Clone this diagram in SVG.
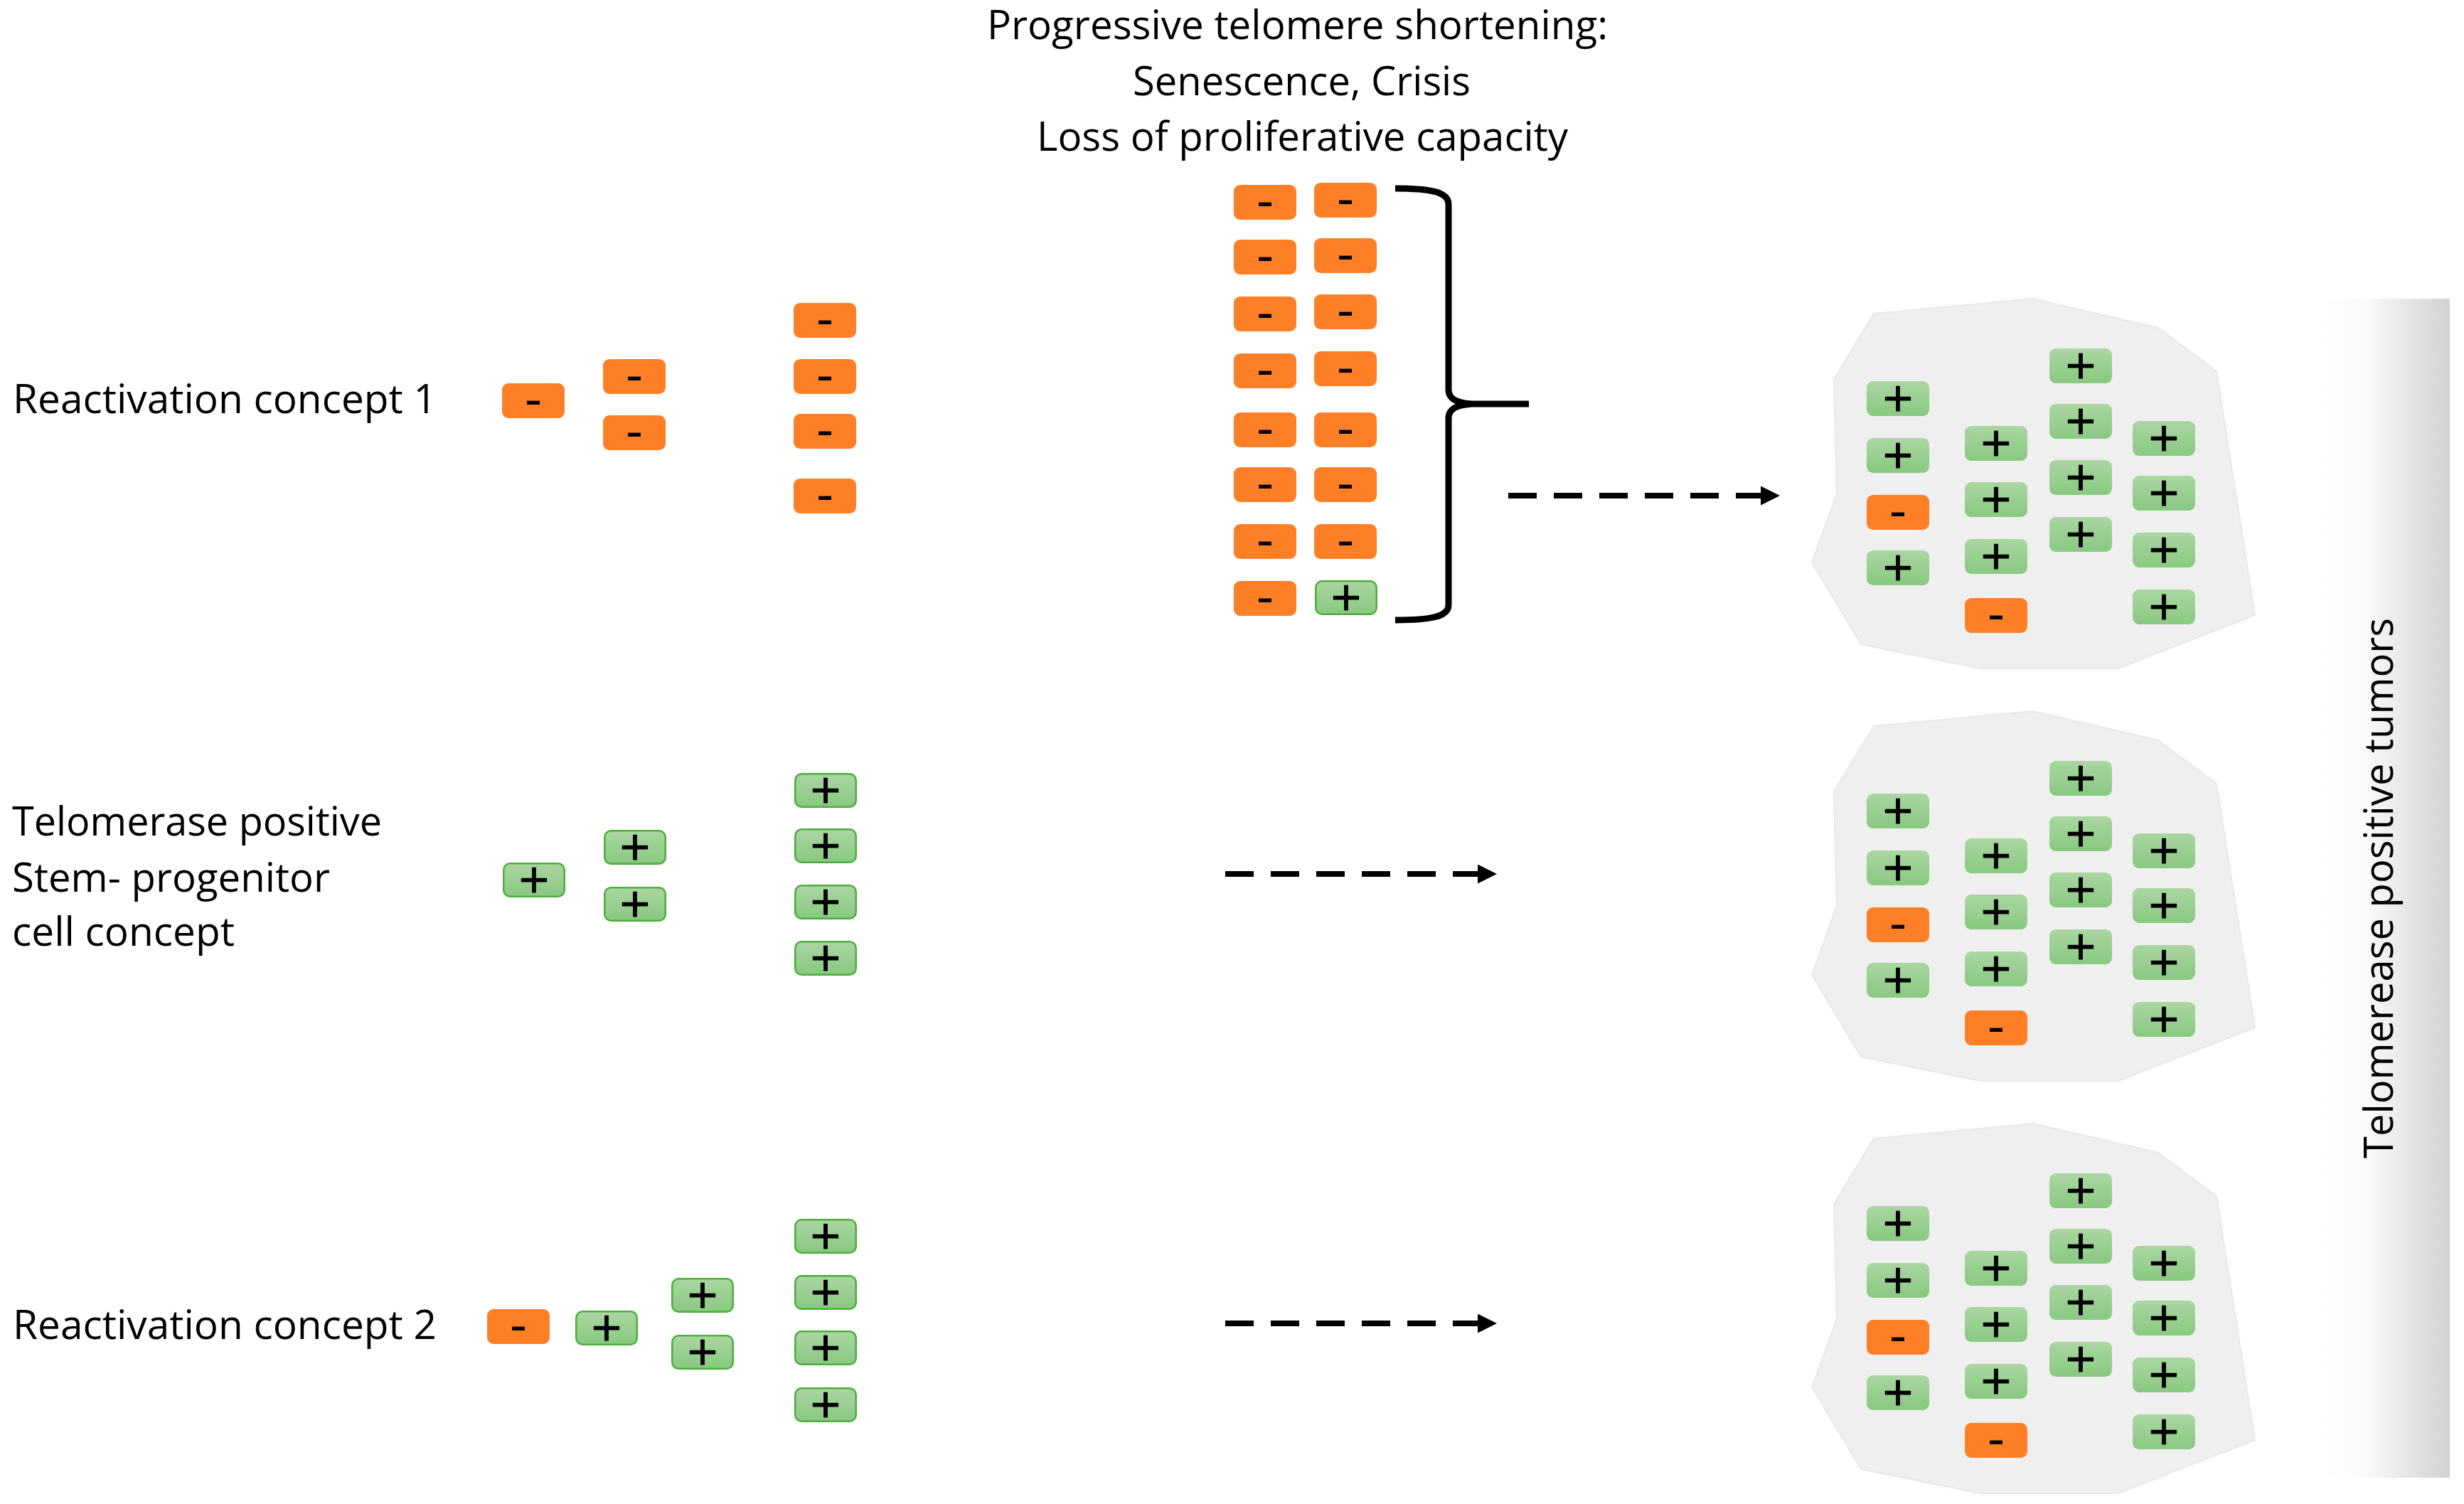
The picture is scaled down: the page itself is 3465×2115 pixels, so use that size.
<svg xmlns="http://www.w3.org/2000/svg" xmlns:xlink="http://www.w3.org/1999/xlink" width="3465" height="2115" viewBox="0 0 3465 2115">
<style>
.lbl{font-family:"Open Sans","Liberation Sans",sans-serif;font-size:56px;fill:#000}
.m{font-family:"DejaVu Sans",sans-serif;font-size:68px;text-anchor:middle;fill:#000}
.p{font-family:"DejaVu Sans",sans-serif;font-size:56px;text-anchor:middle;fill:#000;stroke:#000;stroke-width:1.2}
.tumor{fill:#efefef;stroke:#e8e8e8;stroke-width:2}
.conn{fill:none;stroke:#000;stroke-width:8;stroke-dasharray:40 24}
</style>
<defs>
<linearGradient id="gg" x1="0" y1="0" x2="0" y2="1">
<stop offset="0" stop-color="#aad6a2"/>
<stop offset="1" stop-color="#88c980"/>
</linearGradient>
<linearGradient id="bar" x1="0" y1="0" x2="1" y2="0">
<stop offset="0" stop-color="#ffffff"/>
<stop offset="0.35" stop-color="#fafafa"/>
<stop offset="1" stop-color="#d2d2d2"/>
</linearGradient>
<marker id="ah" markerUnits="userSpaceOnUse" markerWidth="28" markerHeight="28" refX="5" refY="13.5" orient="auto" viewBox="0 0 28 28">
<path d="M0,0 L27,13.5 L0,27 z" fill="#000"/>
</marker>
<g id="neg"><rect width="88" height="49" rx="9" fill="#FF7F27"/><text x="44" y="46" class="m">-</text></g>
<g id="pos"><rect x="1.25" y="1.25" width="85.5" height="46.5" rx="9" fill="url(#gg)" stroke="#4cae3c" stroke-width="2.5"/><text x="44" y="42" class="p">+</text></g>
<g id="posT"><rect width="88" height="49" rx="9" fill="url(#gg)"/><text x="44" y="42" class="p">+</text></g>
<g id="tumorCells">
<use href="#posT" x="2625" y="536"/>
<use href="#posT" x="2625" y="616"/>
<use href="#neg" x="2625" y="696"/>
<use href="#posT" x="2625" y="774"/>
<use href="#posT" x="2763" y="599"/>
<use href="#posT" x="2763" y="678"/>
<use href="#posT" x="2763" y="758"/>
<use href="#neg" x="2763" y="841"/>
<use href="#posT" x="2882" y="490"/>
<use href="#posT" x="2882" y="568"/>
<use href="#posT" x="2882" y="647"/>
<use href="#posT" x="2882" y="727"/>
<use href="#posT" x="2999" y="592"/>
<use href="#posT" x="2999" y="669"/>
<use href="#posT" x="2999" y="749"/>
<use href="#posT" x="2999" y="829"/>
</g>
<polygon id="tumorShape" class="tumor" points="2579,533 2635,441 2859,420 3035,461 3117,522 3171,865 2979,940 2784,940 2617,906 2548,791 2583,694"/>
</defs>

<rect width="3465" height="2115" fill="#ffffff"/>

<g id="side-bar">
<rect x="3262" y="420" width="183" height="1658" fill="url(#bar)"/>
<text class="lbl" transform="translate(3365,1249) rotate(-90)" text-anchor="middle" textLength="760" lengthAdjust="spacingAndGlyphs">Telomerease positive tumors</text>
</g>

<g id="title">
<text class="lbl" x="1388" y="55" textLength="873" lengthAdjust="spacingAndGlyphs">Progressive telomere shortening:</text>
<text class="lbl" x="1593" y="134" textLength="475" lengthAdjust="spacingAndGlyphs">Senescence, Crisis</text>
<text class="lbl" x="1458" y="212" textLength="747" lengthAdjust="spacingAndGlyphs">Loss of proliferative capacity</text>
</g>

<g id="label-concept1">
<text class="lbl" x="18" y="581" textLength="596" lengthAdjust="spacingAndGlyphs">Reactivation concept 1</text>
</g>
<g id="label-stem">
<text class="lbl" x="17" y="1175" textLength="520" lengthAdjust="spacingAndGlyphs">Telomerase positive</text>
<text class="lbl" x="17" y="1254" textLength="447" lengthAdjust="spacingAndGlyphs">Stem- progenitor</text>
<text class="lbl" x="17" y="1330" textLength="313" lengthAdjust="spacingAndGlyphs">cell concept</text>
</g>
<g id="label-concept2">
<text class="lbl" x="18" y="1883" textLength="596" lengthAdjust="spacingAndGlyphs">Reactivation concept 2</text>
</g>

<g id="row1-cells">
<use href="#neg" x="706" y="539"/>
<use href="#neg" x="848" y="505"/>
<use href="#neg" x="848" y="584"/>
<use href="#neg" x="1116" y="426"/>
<use href="#neg" x="1116" y="505"/>
<use href="#neg" x="1116" y="582"/>
<use href="#neg" x="1116" y="673"/>
</g>

<g id="row2-cells">
<use href="#pos" x="707" y="1213"/>
<use href="#pos" x="849" y="1167"/>
<use href="#pos" x="849" y="1247"/>
<use href="#pos" x="1117" y="1087"/>
<use href="#pos" x="1117" y="1165"/>
<use href="#pos" x="1117" y="1244"/>
<use href="#pos" x="1117" y="1323"/>
</g>

<g id="row3-cells">
<use href="#neg" x="685" y="1841"/>
<use href="#pos" x="809" y="1843"/>
<use href="#pos" x="944" y="1797"/>
<use href="#pos" x="944" y="1877"/>
<use href="#pos" x="1117" y="1714"/>
<use href="#pos" x="1117" y="1793"/>
<use href="#pos" x="1117" y="1871"/>
<use href="#pos" x="1117" y="1951"/>
</g>

<g id="shortening-cells">
<use href="#neg" x="1735" y="260"/>
<use href="#neg" x="1735" y="337"/>
<use href="#neg" x="1735" y="417"/>
<use href="#neg" x="1735" y="497"/>
<use href="#neg" x="1735" y="580"/>
<use href="#neg" x="1735" y="657"/>
<use href="#neg" x="1735" y="737"/>
<use href="#neg" x="1735" y="817"/>
<use href="#neg" x="1848" y="257"/>
<use href="#neg" x="1848" y="335"/>
<use href="#neg" x="1848" y="414"/>
<use href="#neg" x="1848" y="494"/>
<use href="#neg" x="1848" y="580"/>
<use href="#neg" x="1848" y="657"/>
<use href="#neg" x="1848" y="737"/>
<use href="#pos" x="1849" y="816"/>
</g>

<g id="brace">
<path d="M1962,265 C2012,265 2037,270 2037,287 L2037,548 C2037,561 2048,566 2068,568 C2048,570 2037,575 2037,588 L2037,851 C2037,867 2012,872 1962,872" fill="none" stroke="#000" stroke-width="9"/>
<path d="M2062,568 L2150,568" fill="none" stroke="#000" stroke-width="9"/>
</g>

<g id="tumor1">
<use href="#tumorShape"/>
<use href="#tumorCells"/>
</g>
<g id="tumor2" transform="translate(0,580)">
<use href="#tumorShape"/>
<use href="#tumorCells"/>
</g>
<g id="tumor3" transform="translate(0,1160)">
<use href="#tumorShape"/>
<use href="#tumorCells"/>
</g>

<g id="connectors">
<line class="conn" x1="2121" y1="697" x2="2481" y2="697" marker-end="url(#ah)"/>
<line class="conn" x1="1723" y1="1229" x2="2083" y2="1229" marker-end="url(#ah)"/>
<line class="conn" x1="1723" y1="1861" x2="2083" y2="1861" marker-end="url(#ah)"/>
</g>
</svg>
